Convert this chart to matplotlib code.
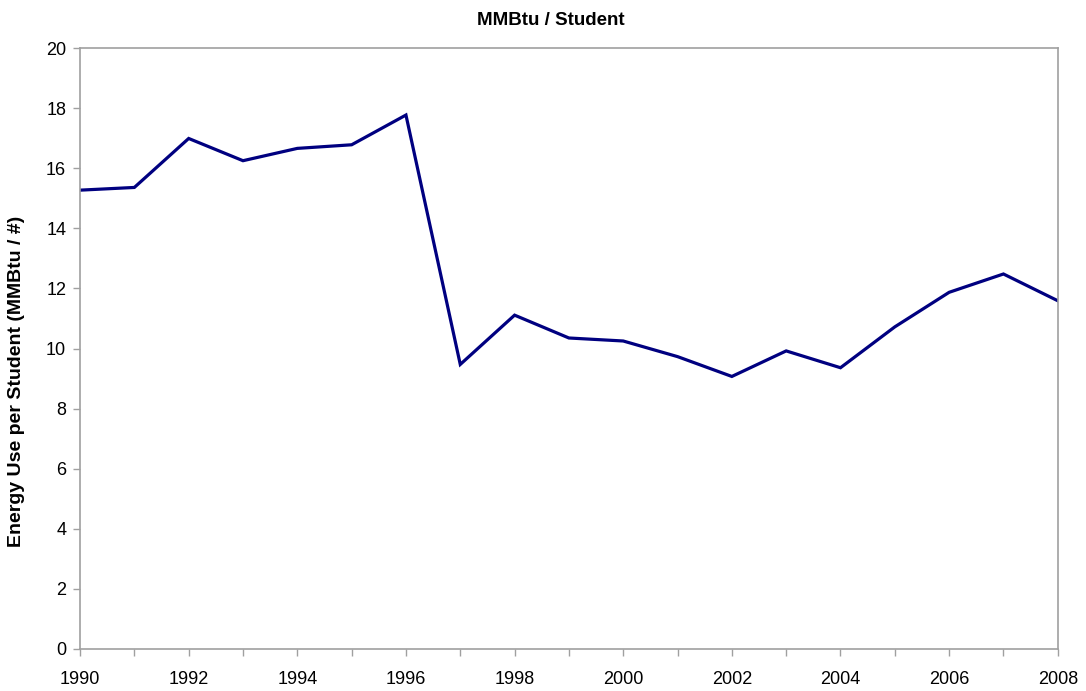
import matplotlib
matplotlib.use("Agg")
import matplotlib.pyplot as plt

plt.rcParams['font.family'] = ['Liberation Sans', 'DejaVu Sans']

years = list(range(1990, 2009))
mmbtu_per_student = [15.27, 15.36, 16.99, 16.25, 16.66, 16.78, 17.77, 9.47, 11.11,
                     10.35, 10.25, 9.73, 9.07, 9.92, 9.36, 10.72, 11.87, 12.48, 11.59]
x_tick_labels = list(range(1990, 2009, 2))
y_ticks = list(range(0, 21, 2))

fig = plt.figure(figsize=(10.86, 6.91), dpi=100)
ax = fig.add_axes([0.0737, 0.0608, 0.9003, 0.8697])

ax.plot(years, mmbtu_per_student, color='#000080', linewidth=2.3, solid_joinstyle='miter')

ax.set_xlim(1990, 2008)
ax.set_ylim(0, 20)
ax.set_xticks(years)
ax.set_xticklabels([str(y) if y in x_tick_labels else '' for y in years])
ax.set_yticks(y_ticks)

for side in ['left', 'bottom', 'top', 'right']:
    ax.spines[side].set_color('#a0a0a0')
    ax.spines[side].set_linewidth(1.2)

ax.tick_params(axis='both', direction='out', length=5, width=1, color='#a0a0a0',
               labelsize=13, labelcolor='black')
ax.tick_params(axis='x', pad=11)
ax.tick_params(axis='y', pad=5)

# title sits centred on the whole chart, not the plot area
fig.text(0.507, 0.971, 'MMBtu / Student', fontsize=13.5, fontweight='bold',
         ha='center', va='center')
ax.set_ylabel('Energy Use per Student (MMBtu / #)', fontsize=14, fontweight='bold')
ax.yaxis.set_label_coords(-0.0565, 0.446)

fig.savefig('out.png', dpi=100)
